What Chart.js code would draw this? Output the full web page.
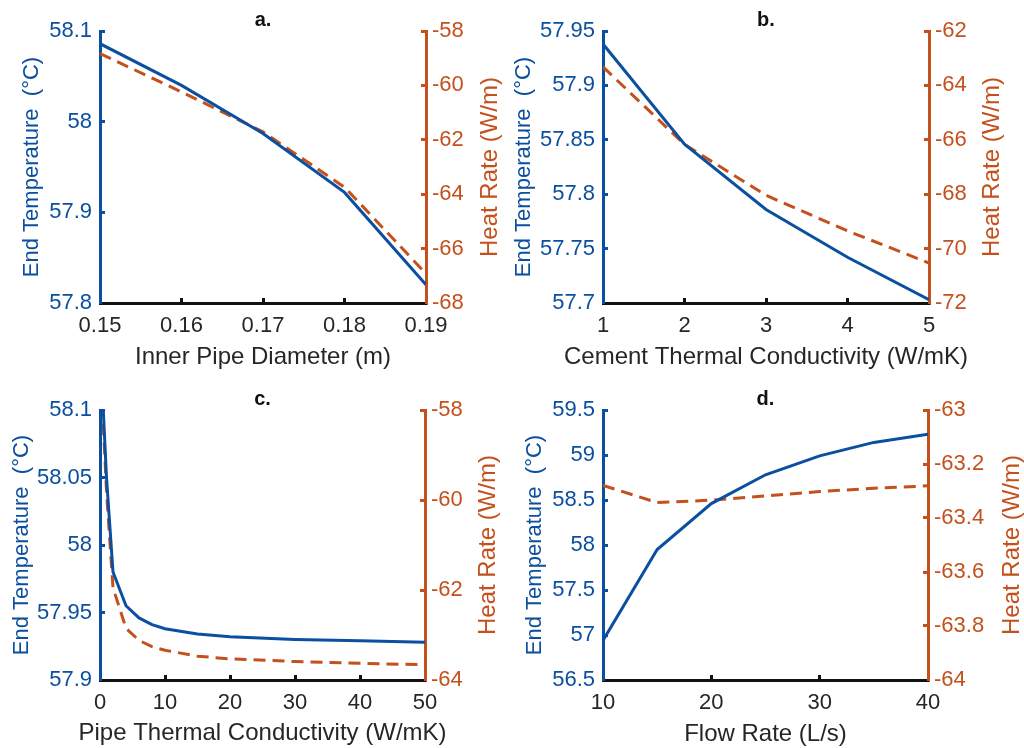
<!DOCTYPE html>
<html>
<head>
<meta charset="utf-8">
<script src="https://cdn.jsdelivr.net/npm/chart.js@4"></script>
<style>
  body { margin: 0; background: #fff; }
  #wrap { position: relative; width: 1024px; height: 748px; }
  canvas { position: absolute; }
</style>
</head>
<body>
<div id="wrap">
  <canvas id="panelA" width="512" height="374" style="left:0;top:0"></canvas>
  <canvas id="panelB" width="512" height="374" style="left:512px;top:0"></canvas>
  <canvas id="panelC" width="512" height="374" style="left:0;top:374px"></canvas>
  <canvas id="panelD" width="512" height="374" style="left:512px;top:374px"></canvas>
</div>
<script>
// a. inner pipe diameter
const diamX = [0.15, 0.16, 0.17, 0.18, 0.19];
const diamTemp = [58.086, 58.040, 57.987, 57.922, 57.820];
const diamHeat = [-58.83, -60.24, -61.71, -63.74, -66.92];
const diamTicksX = [0.15, 0.16, 0.17, 0.18, 0.19];
const diamTicksT = [57.8, 57.9, 58, 58.1];
const diamTicksH = [-68, -66, -64, -62, -60, -58];

// b. cement thermal conductivity
const cementX = [1, 2, 3, 4, 5];
const cementTemp = [57.938, 57.846, 57.786, 57.742, 57.703];
const cementHeat = [-63.32, -66.17, -68.04, -69.35, -70.53];
const cementTicksX = [1, 2, 3, 4, 5];
const cementTicksT = [57.7, 57.75, 57.8, 57.85, 57.9, 57.95];
const cementTicksH = [-72, -70, -68, -66, -64, -62];

// c. pipe thermal conductivity
const pipeX = [0.5, 1, 2, 4, 6, 8, 10, 15, 20, 30, 40, 50];
const pipeTemp = [58.1, 58.05, 57.98, 57.955, 57.946, 57.941, 57.938, 57.934, 57.932, 57.930, 57.929, 57.928];
const pipeHeat = [-58.3, -59.8, -61.95, -62.85, -63.12, -63.26, -63.34, -63.47, -63.53, -63.59, -63.63, -63.66];
const pipeTicksX = [0, 10, 20, 30, 40, 50];
const pipeTicksT = [57.9, 57.95, 58, 58.05, 58.1];
const pipeTicksH = [-64, -62, -60, -58];

// d. flow rate
const flowX = [10, 15, 20, 25, 30, 35, 40];
const flowTemp = [56.94, 57.95, 58.46, 58.78, 58.99, 59.14, 59.23];
const flowHeat = [-63.279, -63.343, -63.334, -63.318, -63.302, -63.290, -63.281];
const flowTicksX = [10, 20, 30, 40];
const flowTicksT = [56.5, 57, 57.5, 58, 58.5, 59, 59.5];
const flowTicksH = [-64, -63.8, -63.6, -63.4, -63.2, -63];

const BLUE = '#0b4fa0';
const ORANGE = '#c4501c';
const INK = '#262626';
const W = 512, H = 374;
const FONT = '"Liberation Sans", Arial, sans-serif';

Chart.defaults.font.family = FONT;

// panel letter, x title (too wide for chart.js' maxWidth) and right axis title (bottom-to-top)
const panelText = {
  id: 'panelText',
  afterDraw(chart, args, opts) {
    const { ctx, chartArea } = chart;
    const cx = (chartArea.left + chartArea.right) / 2;
    ctx.save();
    ctx.textAlign = 'center';
    ctx.fillStyle = '#111';
    ctx.font = 'bold 20px ' + FONT;
    ctx.textBaseline = 'alphabetic';
    ctx.fillText(opts.label, cx, chartArea.top - 5);
    ctx.fillStyle = INK;
    ctx.font = '24px ' + FONT;
    ctx.textBaseline = 'middle';
    ctx.fillText(opts.xTitle, cx, opts.xTitleY);
    ctx.translate(opts.rightX, (chartArea.top + chartArea.bottom) / 2);
    ctx.rotate(-Math.PI / 2);
    ctx.fillStyle = ORANGE;
    ctx.fillText(opts.rightTitle, 0, 0);
    ctx.restore();
  }
};

function pts(xs, ys) {
  return xs.map((x, i) => ({ x: x, y: ys[i] }));
}

function fixTicks(list) {
  return scale => { scale.ticks = list.map(v => ({ value: v })); };
}

function makePanel(id, p) {
  new Chart(document.getElementById(id), {
    type: 'line',
    data: {
      datasets: [
        {
          data: pts(p.x, p.temp),
          yAxisID: 'y',
          borderColor: BLUE,
          borderWidth: 3,
          pointRadius: 0,
          tension: 0,
        },
        {
          data: pts(p.x, p.heat),
          yAxisID: 'y1',
          borderColor: ORANGE,
          borderWidth: 3,
          borderDash: [12, 7],
          pointRadius: 0,
          tension: 0,
        },
      ],
    },
    options: {
      responsive: false,
      animation: false,
      devicePixelRatio: 1,
      layout: { padding: { top: p.area[2], left: 0, right: 0, bottom: 0 } },
      plugins: {
        legend: { display: false },
        tooltip: { enabled: false },
        panelText: { label: p.label, xTitle: p.xTitle, xTitleY: p.xTitleY, rightTitle: 'Heat Rate (W/m)', rightX: p.rightX },
      },
      scales: {
        x: {
          type: 'linear',
          min: p.ticksX[0],
          max: p.ticksX[p.ticksX.length - 1],
          afterBuildTicks: fixTicks(p.ticksX),
          afterFit: s => { s.height = H - p.area[3]; },
          grid: { drawOnChartArea: false, tickLength: -5, tickWidth: 3, tickColor: '#111' },
          border: { color: '#111', width: 3 },
          ticks: { color: INK, font: { size: 22 }, padding: 15, maxRotation: 0, callback: v => String(v) },
        },
        y: {
          position: 'left',
          min: p.ticksT[0],
          max: p.ticksT[p.ticksT.length - 1],
          afterBuildTicks: fixTicks(p.ticksT),
          afterFit: s => { s.width = p.area[0]; },
          grid: { drawOnChartArea: false, tickLength: -5, tickWidth: 3, tickColor: BLUE },
          border: { color: BLUE, width: 3 },
          ticks: { color: BLUE, font: { size: 22 }, padding: 13, callback: v => String(v) },
          title: { display: true, text: 'End Temperature  (°C)', color: BLUE, font: { size: 22, lineHeight: 1 }, padding: { top: p.yPad, bottom: 0 } },
        },
        y1: {
          position: 'right',
          min: p.ticksH[0],
          max: p.ticksH[p.ticksH.length - 1],
          afterBuildTicks: fixTicks(p.ticksH),
          afterFit: s => { s.width = W - p.area[1]; },
          grid: { drawOnChartArea: false, tickLength: -5, tickWidth: 3, tickColor: ORANGE },
          border: { color: ORANGE, width: 3 },
          ticks: { color: ORANGE, font: { size: 22 }, padding: 11, callback: v => String(v) },
        },
      },
    },
    plugins: [panelText],
  });
}

// area = [left, right, top, bottom] of the plot box inside each 512x374 canvas
makePanel('panelA', {
  label: 'a.', x: diamX, temp: diamTemp, heat: diamHeat,
  ticksX: diamTicksX, ticksT: diamTicksT, ticksH: diamTicksH,
  xTitle: 'Inner Pipe Diameter (m)', xTitleY: 357, area: [100, 426, 31, 303], yPad: 21, rightX: 490,
});
makePanel('panelB', {
  label: 'b.', x: cementX, temp: cementTemp, heat: cementHeat,
  ticksX: cementTicksX, ticksT: cementTicksT, ticksH: cementTicksH,
  xTitle: 'Cement Thermal Conductivity (W/mK)', xTitleY: 357, area: [91, 417, 31, 303], yPad: 1, rightX: 480,
});
makePanel('panelC', {
  label: 'c.', x: pipeX, temp: pipeTemp, heat: pipeHeat,
  ticksX: pipeTicksX, ticksT: pipeTicksT, ticksH: pipeTicksH,
  xTitle: 'Pipe Thermal Conductivity (W/mK)', xTitleY: 359, area: [100, 425, 36, 306], yPad: 11, rightX: 488,
});
makePanel('panelD', {
  label: 'd.', x: flowX, temp: flowTemp, heat: flowHeat,
  ticksX: flowTicksX, ticksT: flowTicksT, ticksH: flowTicksH,
  xTitle: 'Flow Rate (L/s)', xTitleY: 360, area: [91, 416, 36, 306], yPad: 12, rightX: 500,
});
</script>
</body>
</html>
